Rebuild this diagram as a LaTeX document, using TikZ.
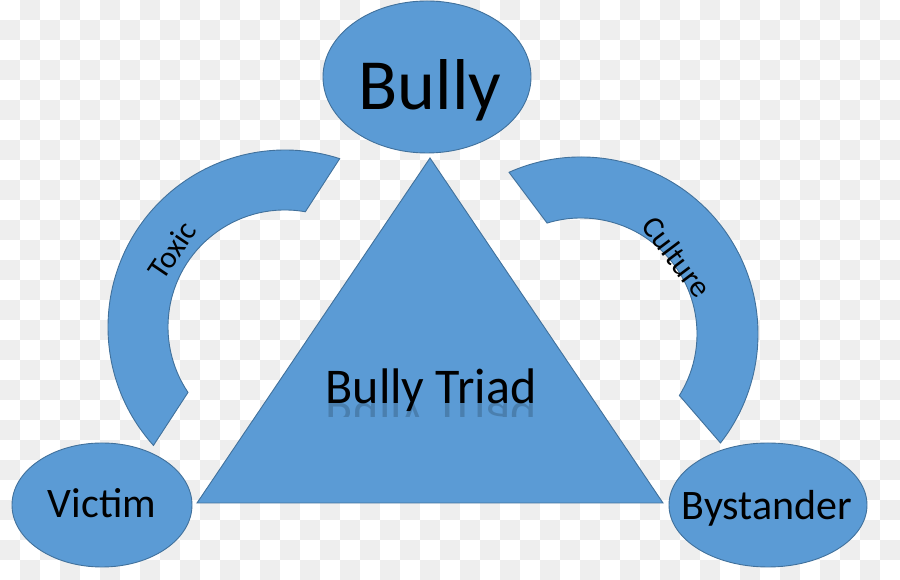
\documentclass[tikz,border=0pt]{standalone}
\usepackage{fontspec}
\setmainfont{Carlito}
\usetikzlibrary{shapes.geometric}
\definecolor{boxblue}{HTML}{5B9BD5}
\definecolor{edgeblue}{HTML}{41719C}
\definecolor{checkgray}{HTML}{EEEEEE}
\begin{document}
\begin{tikzpicture}[x=1pt,y=1pt,
  shapefill/.style={fill=boxblue, draw=edgeblue, line width=0.9pt},
  role/.style={ellipse, shapefill, inner sep=0pt},
  bigtext/.style={anchor=base, text=black, font=\fontsize{#1}{#1}\selectfont}]
\useasboundingbox (0,0) rectangle (900,580);
\fill[white] (0,0) rectangle (900,580);
\foreach \i in {0,...,44}{\foreach \j in {0,...,28}{%
  \pgfmathtruncatemacro{\s}{mod(\i+\j,2)}%
  \ifnum\s=1 \fill[checkgray] (20*\i,560-20*\j) rectangle ++(20,20);\fi}}
% curved bands
\draw[shapefill, shift={(285,253)}] (222:177pt) arc[start angle=222, end angle=72, radius=177pt]
  -- (80:117pt) arc[start angle=80, end angle=214, radius=117pt] -- cycle;
\draw[shapefill, shift={(581,246)}] (114:177pt) arc[start angle=114, end angle=-38, radius=177pt]
  -- (-32:116pt) arc[start angle=-32, end angle=107, radius=116pt] -- cycle;
% triangle
\coordinate (apex) at (430,422);
\coordinate (tl) at (197,77);
\coordinate (tr) at (663,77);
\draw[shapefill] (apex) -- (tl) -- (tr) -- cycle;
% ellipses
\node[role, minimum width=208pt, minimum height=152pt] (bully) at (427,503) {};
\node[role, minimum width=180pt, minimum height=124pt] (victim) at (102,75) {};
\node[role, minimum width=198pt, minimum height=124pt] (bystander) at (768,75) {};
% texts
\node[bigtext=72] (bullytxt) at (430,470) {Bully};
\node[bigtext=42] (victimtxt) at (102,62) {Victim};
\node[bigtext=42] (bystandertxt) at (767,60) {Bystander};
\node[bigtext=50] (triadtxt) at (431,176) {Bully Triad};
\begin{scope}
  \clip (300,163) rectangle (560,176);
  \node[bigtext=50, yscale=-1, opacity=0.18] (triadrefl) at (431,176) {Bully Triad};
\end{scope}
\node[rotate=56, font=\fontsize{31}{31}\selectfont] (toxic) at (172,330) {Toxic};
\node[rotate=-53, font=\fontsize{31}{31}\selectfont] (culture) at (677,323) {Culture};
\end{tikzpicture}
\end{document}
